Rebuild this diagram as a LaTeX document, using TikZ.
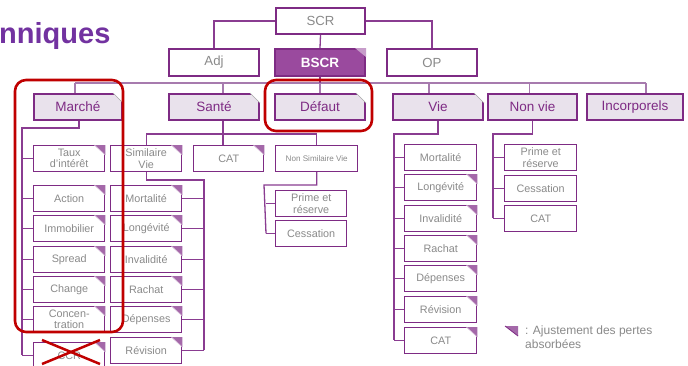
\documentclass[tikz,border=0pt]{standalone}
\usepackage{fontspec}
\setmainfont{Liberation Sans}
\definecolor{pur}{HTML}{7E2B84}
\definecolor{purline}{HTML}{8A3C91}
\definecolor{busc}{HTML}{A77BAE}
\definecolor{lav}{HTML}{E9E2EC}
\definecolor{bscrfill}{HTML}{9A4A9E}
\definecolor{earpur}{HTML}{A468A9}
\definecolor{txtgray}{HTML}{8A8A8A}
\definecolor{redc}{HTML}{C00000}
\definecolor{titlec}{HTML}{7232A0}
\tikzset{
 box/.style={draw=pur, line width=2, fill=white, text=txtgray, inner sep=0, anchor=north west,
   font=\fontsize{13.2}{14}\selectfont, align=center},
 topbox/.style={box, minimum width=90, minimum height=27},
 catbox/.style={box, fill=lav, text=pur, minimum height=26, font=\fontsize{13.5}{14}\selectfont},
 kid/.style={draw=pur, line width=1.4, fill=white, text=txtgray, inner sep=0, anchor=north west,
   minimum width=71, minimum height=25.5, font=\fontsize{10.8}{11.5}\selectfont, align=center},
 link/.style={draw=purline, line width=1.3},
 buslink/.style={draw=busc, line width=1.1},
 redbox/.style={draw=redc, line width=2.6, rounded corners=11},
}
\newcommand\kear[1]{\fill[earpur] ([xshift=-11pt]#1.north east) -- (#1.north east) -- ([yshift=-10pt]#1.north east) -- cycle;
  \draw[white!55!earpur, line width=0.6] ([xshift=-11pt]#1.north east) -- ([yshift=-10pt]#1.north east);}
\newcommand\wear[1]{\fill[white] ([xshift=-10pt]#1.north east) -- (#1.north east) -- ([yshift=-10pt]#1.north east) -- cycle;
  \draw[gray!70, line width=0.7] ([xshift=-10pt]#1.north east) -- ([yshift=-10pt]#1.north east);}
\begin{document}
\begin{tikzpicture}[x=1pt,y=-1pt]
\clip (0,0) rectangle (688,365);
\useasboundingbox (0,0) rectangle (688,365);
\fill[white] (0,0) rectangle (688,365);

% title
\node[anchor=base west, text=titlec, font=\bfseries\fontsize{29}{30}\selectfont, inner sep=0] (title) at (-1,43) {nniques};

% level 1
\node[topbox, minimum width=89, minimum height=26] (scr) at (275,7) {SCR};
\node[topbox] (adj) at (168,48) {Adj};
\node[topbox, fill=bscrfill, text=white, font=\bfseries\fontsize{13.5}{14}\selectfont] (bscr) at (274,48) {BSCR};
\node[topbox] (op) at (386,48) {OP};

% level 2
\node[catbox, minimum width=88] (marche) at (33,93) {Marché};
\node[catbox, minimum width=90] (sante) at (168,93) {Santé};
\node[catbox, minimum width=90] (defaut) at (274,93) {Défaut};
\node[catbox, minimum width=90] (vie) at (392,93) {Vie};
\node[catbox, minimum width=89] (nonvie) at (487,93) {Non vie};
\node[catbox, minimum width=96] (incorp) at (586,93) {Incorporels};

% Marche children
\node[kid] (taux) at (33,145) {Taux\\d’intérêt};
\node[kid] (action) at (33,185) {Action};
\node[kid] (immo) at (33,215) {Immobilier};
\node[kid] (spread) at (33,246) {Spread};
\node[kid] (change) at (33,276) {Change};
\node[kid] (concen) at (33,306) {Concen-\\tration};
\node[kid] (ccr) at (33,342) {CCR};

% Sante children
\node[kid] (simvie) at (110,145) {Similaire\\Vie};
\node[kid, minimum width=70] (cat1) at (193,145) {CAT};
\node[kid, minimum width=82, font=\fontsize{8.1}{9}\selectfont] (nsv) at (275,145) {Non Similaire Vie};

\node[kid] (mort1) at (110,185) {Mortalité};
\node[kid] (long1) at (110,215) {Longévité};
\node[kid] (inv1) at (110,246) {Invalidité};
\node[kid] (rach1) at (110,276) {Rachat};
\node[kid] (dep1) at (110,306) {Dépenses};
\node[kid] (rev1) at (110,337) {Révision};

\node[kid] (prime1) at (275,190) {Prime et\\réserve};
\node[kid] (cess1) at (275,220) {Cessation};

% Vie children
\node[kid, minimum width=72] (mort2) at (404,144) {Mortalité};
\node[kid, minimum width=72] (long2) at (404,174) {Longévité};
\node[kid, minimum width=72] (inv2) at (404,205) {Invalidité};
\node[kid, minimum width=72] (rach2) at (404,235) {Rachat};
\node[kid, minimum width=72] (dep2) at (404,265) {Dépenses};
\node[kid, minimum width=72] (rev2) at (404,296) {Révision};
\node[kid, minimum width=72] (cat2) at (404,327) {CAT};

% Non vie children
\node[kid, minimum width=72] (prime2) at (504,144) {Prime et\\réserve};
\node[kid, minimum width=72] (cess2) at (504,175) {Cessation};
\node[kid, minimum width=72] (cat3) at (504,205) {CAT};

% ears
\fill[white!45!bscrfill] ([xshift=-11pt]bscr.north east) -- (bscr.north east) -- ([yshift=-9pt]bscr.north east) -- cycle;
\foreach \n in {marche,sante,defaut,vie} {\wear{\n}}
\foreach \n in {taux,action,immo,spread,change,concen,ccr,simvie,cat1,mort1,long1,inv1,rach1,dep1,rev1,long2,inv2,rach2,dep2,rev2,cat2} {\kear{\n}}

% connectors level 0-1
\draw[link] (scr.west) -| (adj.north);
\draw[link] (scr.east) -| (op.north);
\draw[link] (scr.south) -- (bscr.north);

% bus
\coordinate (busL) at (75,83);
\coordinate (busR) at (646,83);
\draw[buslink] (busL) -- (busR);
\draw[link] (bscr.south) -- (bscr.south |- busL);
\draw[buslink] (busL) -- (busL |- marche.north);
\coordinate (sd) at ([xshift=9pt]sante.north);
\draw[buslink] (sd |- busL) -- (sd);
\draw[buslink] (defaut.north |- busL) -- (defaut.north);
\coordinate (vd) at ([xshift=-9pt]vie.north);
\draw[buslink] (vd |- busL) -- (vd);
\coordinate (nd) at ([xshift=-3pt]nonvie.north);
\draw[buslink] (nd |- busL) -- (nd);
\draw[buslink] (busR) -- (busR |- incorp.north);

% Marche tree
\coordinate (m1) at ([xshift=1pt]marche.south);
\coordinate (mv) at (22,128);
\draw[link] (m1) -- (m1 |- mv) -- (mv) -- (mv |- ccr.west);
\foreach \n in {taux,action,immo,spread,change,concen,ccr} {\draw[link] (mv |- \n.west) -- (\n.west);}

% Sante tree
\coordinate (sv) at ([xshift=9pt]sante.south);
\coordinate (sh) at (0,134);
\draw[link] (sv) -- (sv |- sh);
\draw[link] (simvie.north |- sh) -- (nsv.north |- sh);
\draw[link] (simvie.north |- sh) -- (simvie.north);
\draw[link] (nsv.north |- sh) -- (nsv.north);
\draw[link] (sv |- sh) -- (sv |- cat1.north);

% Similaire vie tree
\coordinate (svv) at (204,180);
\draw[link] (simvie.south) |- (svv) -- (svv |- rev1.east);
\foreach \n in {mort1,long1,inv1,rach1,dep1,rev1} {\draw[link] (svv |- \n.east) -- (\n.east);}

% Non similaire vie tree
\coordinate (nv) at (266,185);
\draw[link] (nsv.south) |- ([xshift=-2pt]nv) -- (nv |- cess1.west);
\foreach \n in {prime1,cess1} {\draw[link] (nv |- \n.west) -- (\n.west);}

% Vie tree
\coordinate (vv) at (394,134);
\draw[link] (vie.south) |- (vv) -- (vv |- cat2.west);
\foreach \n in {mort2,long2,inv2,rach2,dep2,rev2,cat2} {\draw[link] (vv |- \n.west) -- (\n.west);}

% Non vie tree
\coordinate (nvv) at (493,134);
\draw[link] (nonvie.south) |- (nvv) -- (nvv |- cat3.west);
\foreach \n in {prime2,cess2,cat3} {\draw[link] (nvv |- \n.west) -- (\n.west);}

% legend
\fill[earpur] (505,326) -- (518,326) -- (518,336) -- cycle;
\draw[pur, line width=0.8] (505,326) -- (518,336);
\node[anchor=north west, inner sep=0, text=txtgray, align=left, font=\fontsize{12}{13.5}\selectfont] (leg) at (525,326) {: Ajustement des pertes\\absorbées};

% red highlights
\draw[redbox] (15,80) rectangle (123,332);
\draw[redbox] (265,80) rectangle (372,131);
\draw[redc, line width=2.5] (42,340) -- (100,364);
\draw[redc, line width=2.5] (42,364) -- (100,340);
\end{tikzpicture}
\end{document}
